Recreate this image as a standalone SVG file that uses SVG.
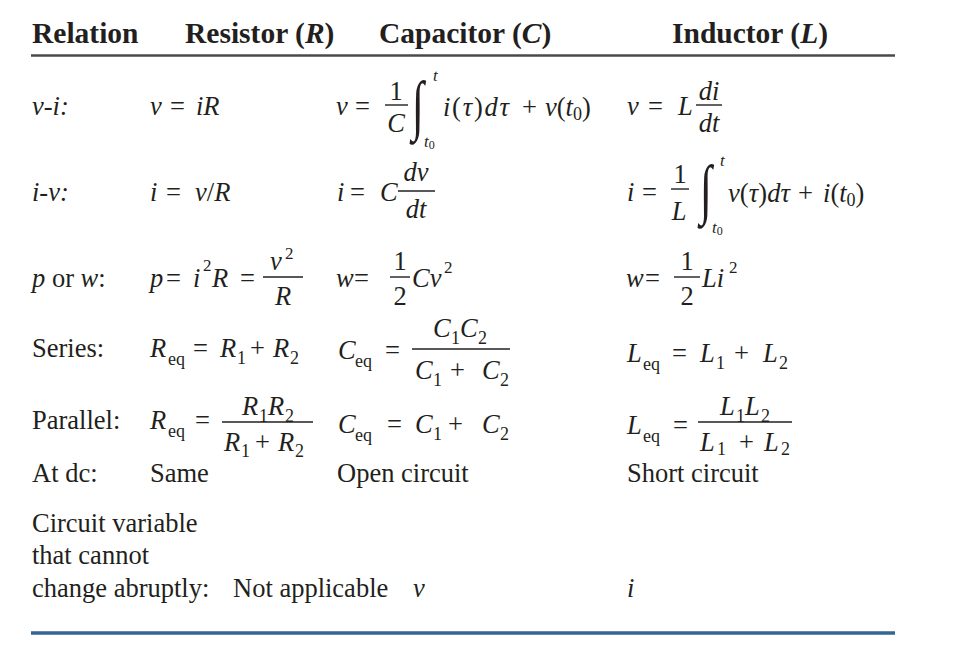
<svg xmlns="http://www.w3.org/2000/svg" width="960" height="654" viewBox="0 0 960 654">
<style>
.t{font-family:"Liberation Serif","Times New Roman",serif;font-size:26.5px;fill:#231f20}
.i{font-style:italic}
.h{font-weight:bold;font-size:29.5px}
.s{font-size:18px;font-style:normal}
.p{font-size:17px;font-style:normal}
.l{font-family:"Liberation Serif","Times New Roman",serif;font-size:17px;font-style:italic;fill:#231f20}
.m{text-anchor:middle}
.int{font-family:"Liberation Serif","Times New Roman",serif;font-size:44px;fill:#231f20}
.bar{stroke:#231f20;stroke-width:1.4}
</style>
<rect width="960" height="654" fill="#ffffff"/>

<g id="header">
<text class="t h" x="32" y="43">Relation</text>
<text class="t h" x="185" y="43">Resistor (<tspan class="i">R</tspan>)</text>
<text class="t h" x="379" y="43">Capacitor (<tspan class="i">C</tspan>)</text>
<text class="t h" x="672" y="43">Inductor (<tspan class="i">L</tspan>)</text>
<line x1="31" y1="55.5" x2="895" y2="55.5" stroke="#4a4a4a" stroke-width="2.4"/>
</g>

<g id="row-vi">
<text class="t i" x="32" y="115">v-i:</text>
<text class="t i" x="150" y="115">v</text><text class="t" x="170" y="115">=</text><text class="t i" x="196" y="115">iR</text>
<text class="t i" x="336" y="115">v</text><text class="t" x="355" y="115">=</text>
<text class="t m" x="396" y="100">1</text><line class="bar" x1="385" y1="105" x2="408" y2="105"/><text class="t i m" x="396" y="132">C</text>
<text class="int" transform="translate(412,127) scale(1,1.5)">∫</text>
<text class="l" x="433" y="81">t</text>
<text class="l" x="424" y="147">t<tspan font-size="12" font-style="normal" dy="2">0</tspan></text>
<text class="t" x="443" y="116" textLength="66" lengthAdjust="spacing"><tspan class="i">i</tspan>(<tspan class="i">τ</tspan>)<tspan class="i">dτ</tspan></text>
<text class="t" x="522" y="116">+</text>
<text class="t" x="545" y="116"><tspan class="i">v</tspan>(<tspan class="i">t</tspan><tspan class="s" dy="4">0</tspan><tspan dy="-4">)</tspan></text>
<text class="t i" x="627" y="115">v</text><text class="t" x="648" y="115">=</text><text class="t i" x="678" y="115">L</text>
<text class="t i m" x="709" y="100">di</text><line class="bar" x1="696" y1="105" x2="722" y2="105"/><text class="t i m" x="709" y="132">dt</text>
</g>

<g id="row-iv">
<text class="t i" x="32" y="201">i-v:</text>
<text class="t i" x="150" y="201">i</text><text class="t" x="166" y="201">=</text><text class="t" x="195" y="201"><tspan class="i">v</tspan>/<tspan class="i">R</tspan></text>
<text class="t i" x="337" y="201">i</text><text class="t" x="350" y="201">=</text><text class="t i" x="380" y="201">C</text>
<text class="t i m" x="416" y="181">dv</text><line class="bar" x1="398" y1="191" x2="435" y2="191"/><text class="t i m" x="416" y="218">dt</text>
<text class="t i" x="627" y="201">i</text><text class="t" x="642" y="201">=</text>
<text class="t m" x="680" y="183">1</text><line class="bar" x1="671" y1="189" x2="689" y2="189"/><text class="t i m" x="679" y="220">L</text>
<text class="int" transform="translate(700,211) scale(1,1.5)">∫</text>
<text class="l" x="720" y="166">t</text>
<text class="l" x="712" y="233">t<tspan font-size="12" font-style="normal" dy="2">0</tspan></text>
<text class="t" x="728" y="202" textLength="62" lengthAdjust="spacing"><tspan class="i">v</tspan>(<tspan class="i">τ</tspan>)<tspan class="i">dτ</tspan></text>
<text class="t" x="798" y="202">+</text>
<text class="t" x="823" y="202"><tspan class="i">i</tspan>(<tspan class="i">t</tspan><tspan class="s" dy="4">0</tspan><tspan dy="-4">)</tspan></text>
</g>

<g id="row-pw">
<text class="t" x="32" y="287"><tspan class="i">p</tspan> or <tspan class="i">w</tspan>:</text>
<text class="t i" x="150" y="287">p</text><text class="t" x="166" y="287">=</text>
<text class="t i" x="193" y="287">i</text><text class="t p" x="203" y="271">2</text><text class="t i" x="212" y="287">R</text>
<text class="t" x="240" y="287">=</text>
<text class="t i" x="270" y="270">v</text><text class="t p" x="285" y="259">2</text>
<line class="bar" x1="263" y1="277" x2="303" y2="277"/><text class="t i m" x="283" y="305">R</text>
<text class="t i" x="336" y="287">w</text><text class="t" x="354" y="287">=</text>
<text class="t m" x="400" y="270">1</text><line class="bar" x1="390" y1="277" x2="410" y2="277"/><text class="t m" x="400" y="305">2</text>
<text class="t i" x="412" y="287">Cv</text><text class="t p" x="444" y="273">2</text>
<text class="t i" x="626" y="287">w</text><text class="t" x="645" y="287">=</text>
<text class="t m" x="687" y="270">1</text><line class="bar" x1="674" y1="277" x2="700" y2="277"/><text class="t m" x="687" y="305">2</text>
<text class="t i" x="702" y="287">Li</text><text class="t p" x="729" y="273">2</text>
</g>

<g id="row-series">
<text class="t" x="32" y="357">Series:</text>
<text class="t i" x="150" y="357">R</text><text class="t s" x="168" y="365">eq</text>
<text class="t" x="193" y="357">=</text>
<text class="t i" x="220" y="357">R</text><text class="t s" x="237" y="364">1</text>
<text class="t" x="250" y="357">+</text>
<text class="t i" x="273" y="357">R</text><text class="t s" x="290" y="364">2</text>
<text class="t i" x="338" y="359">C</text><text class="t s" x="355" y="367">eq</text>
<text class="t" x="385" y="359">=</text>
<text class="t i" x="433" y="337">C</text><text class="t s" x="451" y="344">1</text><text class="t i" x="460" y="337">C</text><text class="t s" x="478" y="344">2</text>
<line class="bar" x1="412" y1="349" x2="510" y2="349"/>
<text class="t i" x="415" y="379">C</text><text class="t s" x="433" y="386">1</text>
<text class="t" x="450" y="379">+</text>
<text class="t i" x="482" y="379">C</text><text class="t s" x="500" y="386">2</text>
<text class="t i" x="627" y="362">L</text><text class="t s" x="643" y="370">eq</text>
<text class="t" x="672" y="362">=</text>
<text class="t i" x="700" y="362">L</text><text class="t s" x="716" y="369">1</text>
<text class="t" x="734" y="362">+</text>
<text class="t i" x="763" y="362">L</text><text class="t s" x="779" y="369">2</text>
</g>

<g id="row-parallel">
<text class="t" x="32" y="429">Parallel:</text>
<text class="t i" x="150" y="429">R</text><text class="t s" x="168" y="437">eq</text>
<text class="t" x="195" y="429">=</text>
<text class="t i" x="242" y="415">R</text><text class="t s" x="259" y="422">1</text><text class="t i" x="268" y="415">R</text><text class="t s" x="285" y="422">2</text>
<line class="bar" x1="222" y1="422" x2="313" y2="422"/>
<text class="t i" x="224" y="451">R</text><text class="t s" x="241" y="457">1</text>
<text class="t" x="255" y="451">+</text>
<text class="t i" x="278" y="451">R</text><text class="t s" x="295" y="457">2</text>
<text class="t i" x="338" y="433">C</text><text class="t s" x="355" y="441">eq</text>
<text class="t" x="387" y="433">=</text>
<text class="t i" x="415" y="433">C</text><text class="t s" x="433" y="440">1</text>
<text class="t" x="448" y="433">+</text>
<text class="t i" x="482" y="433">C</text><text class="t s" x="500" y="440">2</text>
<text class="t i" x="627" y="434">L</text><text class="t s" x="643" y="442">eq</text>
<text class="t" x="673" y="434">=</text>
<text class="t i" x="720" y="415">L</text><text class="t s" x="736" y="422">1</text><text class="t i" x="745" y="415">L</text><text class="t s" x="761" y="422">2</text>
<line class="bar" x1="698" y1="422" x2="792" y2="422"/>
<text class="t i" x="700" y="451">L</text><text class="t s" x="717" y="455">1</text>
<text class="t" x="739" y="451">+</text>
<text class="t i" x="764" y="451">L</text><text class="t s" x="781" y="455">2</text>
</g>

<g id="row-dc">
<text class="t" x="32" y="482">At dc:</text>
<text class="t" x="150" y="482">Same</text>
<text class="t" x="337" y="482">Open circuit</text>
<text class="t" x="627" y="482">Short circuit</text>
</g>

<g id="row-abrupt">
<text class="t" x="32" y="532">Circuit variable</text>
<text class="t" x="32" y="564">that cannot</text>
<text class="t" x="32" y="597">change abruptly:</text>
<text class="t" x="233" y="597">Not applicable</text>
<text class="t i" x="413" y="597">v</text>
<text class="t i" x="627" y="597">i</text>
<line x1="31" y1="633" x2="895" y2="633" stroke="#356591" stroke-width="3.5"/>
</g>
</svg>
